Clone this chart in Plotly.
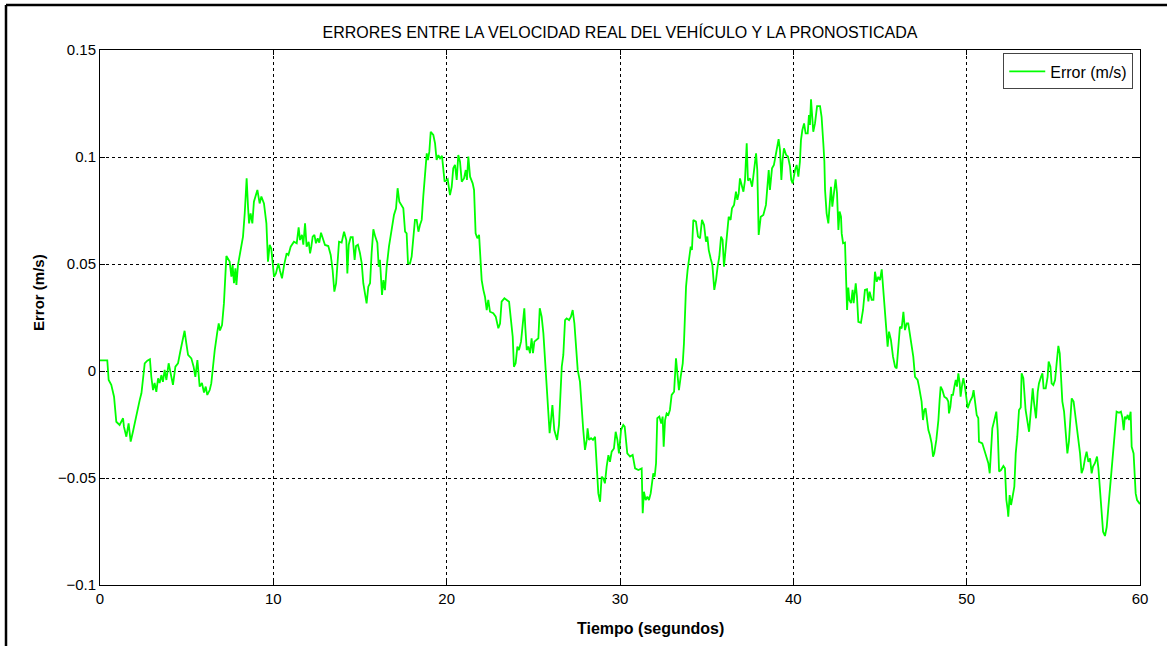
import plotly.graph_objects as go

# ---- data ----
time_a = [0, 0.42, 0.5, 0.65, 0.81, 0.88, 0.94, 1.13, 1.33, 1.38, 1.52, 1.65, 1.77, 1.90, 2.04, 2.15, 2.29, 2.39, 2.48, 2.58,
          2.73, 2.88, 2.96, 3.06, 3.15, 3.25, 3.35, 3.44, 3.54, 3.63, 3.73, 3.83, 3.96, 4.08, 4.21, 4.35, 4.5, 4.65, 4.79, 4.88,
          4.98, 5.08, 5.27, 5.40, 5.5, 5.62, 5.75, 5.88, 6.0, 6.1, 6.19, 6.33, 6.42, 6.52, 6.62, 6.77, 6.85, 6.92, 7.04, 7.15,
          7.23, 7.29, 7.48, 7.58, 7.65, 7.73, 7.81, 7.87, 7.96, 8.12, 8.25, 8.35, 8.39, 8.46, 8.54, 8.6, 8.69, 8.79, 8.88, 9.08,
          9.21, 9.31, 9.46, 9.6, 9.69, 9.79, 9.88, 9.98]
error_a = [0.005, 0.005, -0.0042, -0.0065, -0.012, -0.0174, -0.0237, -0.0252, -0.0221, -0.026, -0.0307, -0.0245, -0.033, -0.0284, -0.0229, -0.0174, -0.0136, -0.0104, -0.0042, 0.0036,
           0.0048, 0.0055, -0.0027, -0.0089, -0.0056, -0.0097, -0.0034, -0.0056, -0.0019, -0.0051, 0.0005, -0.0042, 0.0036, -0.0011, -0.0065, 0.002, 0.0036, 0.0098, 0.0145, 0.0188,
           0.0129, 0.0075, 0.0059, 0.002, -0.0027, 0.0051, -0.0073, -0.0056, -0.0101, -0.0073, -0.0112, -0.0089, -0.0058, 0.0036, 0.0098, 0.0184, 0.0223, 0.0189, 0.0215, 0.0316,
           0.0425, 0.0537, 0.0511, 0.0441, 0.0495, 0.041, 0.048, 0.0402, 0.0495, 0.0573, 0.0628, 0.0737, 0.0799, 0.09, 0.0766, 0.069, 0.0737, 0.069, 0.0791, 0.0846,
           0.0783, 0.0815, 0.0783, 0.069, 0.0511, 0.0589, 0.0573, 0.0503]

time_b = [10.04, 10.15, 10.29, 10.38, 10.5, 10.62, 10.77, 10.87, 11.0, 11.19, 11.35, 11.46, 11.54, 11.65, 11.73, 11.83, 11.92, 12.04, 12.12, 12.19,
          12.27, 12.37, 12.46, 12.56, 12.65, 12.75, 12.85, 12.98, 13.17, 13.31, 13.42, 13.52, 13.62, 13.71, 13.79, 13.94, 14.08, 14.21, 14.27, 14.35,
          14.46, 14.58, 14.69, 14.77, 14.88, 15.0, 15.1, 15.19, 15.29, 15.38, 15.48, 15.58, 15.67, 15.77, 15.88, 16.0, 16.08, 16.15, 16.27, 16.35,
          16.44, 16.54, 16.67, 16.81, 16.96, 17.08, 17.17, 17.27, 17.37, 17.5, 17.6, 17.69, 17.77, 17.88, 17.98, 18.08, 18.17, 18.27, 18.37, 18.46,
          18.56, 18.65, 18.75, 18.85, 18.92, 19.0, 19.08, 19.23, 19.33, 19.42, 19.52, 19.62, 19.73, 19.81, 19.88]
error_b = [0.044, 0.0456, 0.0503, 0.047, 0.0433, 0.0495, 0.055, 0.0542, 0.0581, 0.0604, 0.0597, 0.0671, 0.0612, 0.0636, 0.059, 0.069, 0.0581, 0.0604, 0.055, 0.058,
           0.0628, 0.0636, 0.0597, 0.062, 0.06, 0.0646, 0.062, 0.0589, 0.0584, 0.0542, 0.0472, 0.0371, 0.0409, 0.0503, 0.0604, 0.06, 0.0651, 0.0612, 0.0456, 0.059,
           0.0625, 0.0625, 0.0519, 0.0584, 0.059, 0.055, 0.0503, 0.041, 0.0355, 0.0316, 0.0394, 0.041, 0.055, 0.0662, 0.0628, 0.06, 0.0487, 0.052, 0.0355, 0.0425,
           0.0378, 0.0487, 0.0581, 0.0643, 0.0729, 0.076, 0.0854, 0.0791, 0.0776, 0.076, 0.0651, 0.0643, 0.0503, 0.0501, 0.0534, 0.0636, 0.0706, 0.0706, 0.0651, 0.0682,
           0.0706, 0.0815, 0.0908, 0.1017, 0.0986, 0.1025, 0.1118, 0.1103, 0.1064, 0.0986, 0.1009, 0.0994, 0.1005, 0.0955, 0.0885]

time_c = [20.06, 20.19, 20.29, 20.38, 20.48, 20.58, 20.67, 20.77, 20.87, 21.0, 21.1, 21.17, 21.25, 21.35, 21.5, 21.58, 21.67, 21.77, 21.87, 21.94,
          22.02, 22.12, 22.21, 22.31, 22.4, 22.5, 22.69, 22.83, 22.98, 23.08, 23.17, 23.33, 23.46, 23.6, 23.71, 23.81, 23.88, 23.98, 24.08, 24.17,
          24.29, 24.37, 24.48, 24.54, 24.62, 24.71, 24.81, 24.9, 24.98, 25.06, 25.19, 25.29, 25.37, 25.48, 25.58, 25.67, 25.77, 25.87, 25.94, 26.02,
          26.1, 26.21, 26.37, 26.48, 26.56, 26.64, 26.73, 26.83, 26.92, 27.06, 27.17, 27.27, 27.37, 27.46, 27.56, 27.69, 27.79, 27.88, 27.98, 28.08,
          28.13, 28.21, 28.33, 28.44, 28.56, 28.65, 28.75, 28.85, 28.94, 29.04, 29.13, 29.23, 29.33, 29.42, 29.52, 29.65, 29.75, 29.85, 29.94]
error_c = [0.0896, 0.0822, 0.086, 0.0947, 0.0963, 0.0893, 0.1009, 0.0978, 0.0885, 0.09, 0.0939, 0.0893, 0.1002, 0.0908, 0.0877, 0.0846, 0.0643, 0.062, 0.0636, 0.055,
           0.0425, 0.0378, 0.0347, 0.0285, 0.0332, 0.0277, 0.027, 0.0254, 0.02, 0.0222, 0.0324, 0.034, 0.0332, 0.0324, 0.0238, 0.016, 0.002, 0.0036, 0.0114, 0.0098,
           0.0137, 0.0192, 0.0293, 0.0199, 0.0098, 0.0114, 0.0083, 0.0153, 0.0083, 0.0137, 0.0145, 0.0153, 0.0293, 0.0254, 0.0176, 0.0051, -0.0073, -0.0198, -0.0291, -0.0229,
           -0.0159, -0.0276, -0.0322, -0.0252, -0.0136, 0.002, 0.0075, 0.0238, 0.0246, 0.0238, 0.0254, 0.0285, 0.0222, 0.0098, 0.0005, -0.005, -0.0198, -0.0276, -0.0369, -0.0322,
           -0.0268, -0.0322, -0.0314, -0.0322, -0.0307, -0.0447, -0.0572, -0.0611, -0.0494, -0.0502, -0.0525, -0.0447, -0.0393, -0.0424, -0.0377, -0.0362, -0.0284, -0.0322, -0.0385]

time_d = [30.06, 30.19, 30.27, 30.35, 30.42, 30.58, 30.73, 30.87, 31.06, 31.25, 31.31, 31.38, 31.48, 31.58, 31.67, 31.77, 31.85, 31.92, 32.0, 32.08,
          32.15, 32.27, 32.38, 32.46, 32.52, 32.6, 32.69, 32.79, 32.88, 32.98, 33.12, 33.23, 33.31, 33.4, 33.5, 33.62, 33.69, 33.75, 33.81, 33.9,
          33.98, 34.08, 34.15, 34.23, 34.38, 34.5, 34.62, 34.73, 34.85, 34.96, 35.04, 35.12, 35.23, 35.33, 35.44, 35.54, 35.63, 35.73, 35.83, 35.92,
          36.0, 36.1, 36.19, 36.27, 36.38, 36.46, 36.58, 36.69, 36.77, 36.85, 36.92, 37.02, 37.12, 37.21, 37.31, 37.38, 37.5, 37.62, 37.73, 37.85,
          37.92, 38.0, 38.12, 38.27, 38.42, 38.5, 38.58, 38.65, 38.77, 38.88, 39.0, 39.15, 39.23, 39.31, 39.38, 39.46, 39.58, 39.69, 39.81, 39.88,
          39.96, 40.04]
error_d = [-0.0276, -0.0252, -0.026, -0.0338, -0.0385, -0.04, -0.0392, -0.0455, -0.0463, -0.0455, -0.0665, -0.0564, -0.0603, -0.0587, -0.0603, -0.0572, -0.0517, -0.0478, -0.0494, -0.0431,
           -0.0221, -0.0213, -0.0245, -0.0213, -0.0354, -0.0229, -0.0198, -0.0205, -0.0182, -0.0112, -0.0097, 0.0059, -0.0011, -0.0089, -0.0027, 0.0036, 0.0129, 0.0238, 0.0394, 0.0472,
           0.0534, 0.0581, 0.0566, 0.0706, 0.0698, 0.0628, 0.062, 0.0706, 0.0682, 0.0604, 0.0628, 0.0565, 0.0526, 0.0495, 0.0379, 0.0425, 0.0487, 0.0534, 0.0628, 0.0612,
           0.0487, 0.0566, 0.0643, 0.0721, 0.0706, 0.076, 0.0776, 0.0838, 0.08, 0.083, 0.09, 0.0869, 0.0838, 0.089, 0.1064, 0.089, 0.09, 0.0861, 0.0939, 0.1017,
           0.0939, 0.0636, 0.0721, 0.0729, 0.0776, 0.0846, 0.0939, 0.0846, 0.0947, 0.0963, 0.1025, 0.1083, 0.1033, 0.0893, 0.0986, 0.1041, 0.101, 0.1002, 0.0955, 0.0893,
           0.0877, 0.0916]

time_e = [40.1, 40.19, 40.29, 40.38, 40.44, 40.52, 40.62, 40.71, 40.83, 40.9, 40.96, 41.02, 41.1, 41.15, 41.25, 41.37, 41.54, 41.63, 41.73, 41.79,
          41.83, 41.92, 42.02, 42.1, 42.17, 42.25, 42.37, 42.44, 42.52, 42.6, 42.67, 42.75, 42.79, 42.87, 42.98, 43.04, 43.1, 43.17, 43.23, 43.33,
          43.42, 43.48, 43.6, 43.67, 43.75, 43.9, 44.02, 44.13, 44.25, 44.33, 44.4, 44.52, 44.62, 44.71, 44.81, 44.9, 45.0, 45.1, 45.17, 45.25,
          45.38, 45.44, 45.52, 45.63, 45.75, 45.87, 45.96, 46.06, 46.15, 46.25, 46.35, 46.44, 46.54, 46.63, 46.73, 46.83, 46.92, 47.02, 47.17, 47.25,
          47.33, 47.4, 47.48, 47.56, 47.63, 47.71, 47.79, 47.88, 47.98, 48.06, 48.13, 48.25, 48.37, 48.44, 48.5, 48.6, 48.71, 48.85, 48.94, 48.98,
          49.06, 49.13, 49.21, 49.29, 49.37, 49.44, 49.52, 49.6, 49.65, 49.75, 49.81, 49.9]
error_e = [0.0939, 0.0963, 0.0908, 0.0978, 0.1079, 0.1126, 0.1157, 0.111, 0.111, 0.1196, 0.115, 0.127, 0.1188, 0.1118, 0.1157, 0.1238, 0.1238, 0.1188, 0.1064, 0.098,
           0.0846, 0.0737, 0.069, 0.0768, 0.0861, 0.0768, 0.0846, 0.0896, 0.0831, 0.0659, 0.0745, 0.0721, 0.0643, 0.0597, 0.06, 0.0425, 0.0285, 0.039, 0.0332, 0.0317,
           0.0379, 0.0317, 0.041, 0.0348, 0.023, 0.0225, 0.0285, 0.0379, 0.0382, 0.0325, 0.0371, 0.0332, 0.0332, 0.0464, 0.0417, 0.044, 0.0425, 0.0475, 0.0394, 0.0285,
           0.0176, 0.0114, 0.0184, 0.0145, 0.0067, 0.002, 0.0012, 0.0129, 0.0207, 0.0199, 0.0277, 0.0191, 0.0222, 0.0222, 0.016, 0.0121, 0.0067, -0.0027, -0.0042, -0.0073,
           -0.0112, -0.0143, -0.0229, -0.0182, -0.0174, -0.0221, -0.0276, -0.03, -0.0338, -0.04, -0.0385, -0.0322, -0.0229, -0.0136, -0.0073, -0.0089, -0.012, -0.0128, -0.0143, -0.0198,
           -0.0167, -0.0112, -0.0112, -0.0073, -0.0042, -0.0073, -0.0011, -0.0058, -0.012, -0.0058, -0.0034, -0.0073]

time_f = [50.0, 50.06, 50.19, 50.33, 50.4, 50.48, 50.58, 50.67, 50.71, 50.9, 51.02, 51.15, 51.25, 51.33, 51.4, 51.48, 51.6, 51.71, 51.79, 51.87,
          51.98, 52.12, 52.21, 52.29, 52.37, 52.4, 52.48, 52.56, 52.65, 52.75, 52.83, 52.92, 53.02, 53.12, 53.17, 53.27, 53.4, 53.48, 53.6, 53.69,
          53.81, 53.88, 54.0, 54.1, 54.17, 54.29, 54.37, 54.44, 54.56, 54.67, 54.73, 54.83, 54.9, 55.0, 55.1, 55.19, 55.29, 55.37, 55.44, 55.52,
          55.62, 55.71, 55.81, 55.9, 55.98, 56.06, 56.17, 56.25, 56.35, 56.44, 56.54, 56.63, 56.73, 56.83, 56.92, 57.02, 57.12, 57.21, 57.29, 57.4,
          57.52, 57.6, 57.69, 57.79, 57.87, 57.98, 58.08, 58.17, 58.27, 58.37, 58.46, 58.56, 58.65, 58.79, 58.9, 58.98, 59.06, 59.13, 59.21, 59.29,
          59.37, 59.46, 59.52, 59.63, 59.71, 59.75, 59.83, 60.0]
error_f = [-0.0143, -0.0174, -0.0143, -0.012, -0.0089, -0.0143, -0.0206, -0.022, -0.033, -0.0338, -0.0369, -0.04, -0.0431, -0.0478, -0.0385, -0.0268, -0.0229, -0.019, -0.0276, -0.047,
           -0.0463, -0.0444, -0.0455, -0.0603, -0.065, -0.0681, -0.058, -0.0626, -0.0587, -0.054, -0.0385, -0.0307, -0.0182, -0.017, -0.0011, -0.0034, -0.0182, -0.022, -0.0284, -0.0198,
           -0.0081, -0.0143, -0.0221, -0.0097, -0.0058, -0.0027, -0.0011, -0.0081, -0.0081, -0.0027, 0.0044, 0.002, -0.0058, -0.0066, -0.0042, 0.0036, 0.0117, 0.0083, -0.0042, -0.0143,
           -0.019, -0.0276, -0.0385, -0.033, -0.0213, -0.0128, -0.0143, -0.0198, -0.0276, -0.0338, -0.0385, -0.0478, -0.0455, -0.0408, -0.0377, -0.0424, -0.0408, -0.0478, -0.0447, -0.0431,
           -0.04, -0.0455, -0.0548, -0.0681, -0.0751, -0.0771, -0.0729, -0.0642, -0.0548, -0.0494, -0.04, -0.0291, -0.019, -0.0195, -0.019, -0.0217, -0.0276, -0.0213, -0.0225, -0.0205,
           -0.0229, -0.019, -0.0354, -0.0385, -0.0486, -0.0572, -0.0603, -0.0622]

x_ticks = [0, 10, 20, 30, 40, 50, 60]
x_labels = ["0", "10", "20", "30", "40", "50", "60"]
y_ticks = [-0.1, -0.05, 0, 0.05, 0.1, 0.15]
y_labels = ["\u22120.1", "\u22120.05", "0", "0.05", "0.1", "0.15"]

title_text = "ERRORES ENTRE LA VELOCIDAD REAL DEL VEHÍCULO Y LA PRONOSTICADA"
x_title = "Tiempo (segundos)"
y_title = "Error (m/s)"
series_name = "Error (m/s)"

segments = [(time_a, error_a), (time_b, error_b), (time_c, error_c),
            (time_d, error_d), (time_e, error_e), (time_f, error_f)]
time_s, error_ms = [], []
for i, (ts, es) in enumerate(segments):
    if len(ts) != len(es):
        raise ValueError(f"segment {i}: {len(ts)} times vs {len(es)} errors")
    time_s += ts
    error_ms += es

FONT = "Liberation Sans"

fig = go.Figure()
fig.add_trace(go.Scatter(x=time_s, y=error_ms, mode="lines", name=series_name,
                         line=dict(color="#00ff00", width=1.8), showlegend=True))

axis_common = dict(showline=True, linecolor="black", linewidth=1, mirror="ticks",
                   ticks="inside", ticklen=5, tickcolor="black",
                   showgrid=True, gridcolor="black", gridwidth=1, griddash="3px,3px",
                   zeroline=False, tickfont=dict(family=FONT, size=15, color="black"))

fig.update_xaxes(range=[0, 60], tickvals=x_ticks, ticktext=x_labels, **axis_common)
fig.update_yaxes(range=[-0.1, 0.15], tickvals=y_ticks, ticktext=y_labels, **axis_common)

# axis titles (placed where the reference draws them)
fig.add_annotation(text="<b>" + x_title + "</b>", xref="paper", yref="paper",
                   x=(650 - 100) / 1040, y=(585 - 628) / 535, xanchor="center", yanchor="middle",
                   showarrow=False, font=dict(family=FONT, size=16, color="black"))
fig.add_annotation(text="<b>" + y_title + "</b>", xref="paper", yref="paper", textangle=-90,
                   x=(38 - 100) / 1040, y=(585 - 293) / 535, xanchor="center", yanchor="middle",
                   showarrow=False, font=dict(family=FONT, size=15, color="black"))

# outer frame (left and top edges of the figure window)
frame_left = (6 - 100) / 1040
frame_top = (585 - 5) / 535
fig.add_shape(type="line", xref="paper", yref="paper", x0=frame_left, x1=frame_left, y0=frame_top, y1=-1,
              line=dict(color="black", width=2.5))
fig.add_shape(type="line", xref="paper", yref="paper", x0=frame_left, x1=1.1, y0=frame_top, y1=frame_top,
              line=dict(color="black", width=2.5))

fig.update_layout(
    width=1167, height=646,
    margin=dict(l=100, r=27, t=50, b=61, autoexpand=False),
    paper_bgcolor="white", plot_bgcolor="white",
    title=dict(text=title_text, x=(620 / 1167), xanchor="center", y=1 - 32 / 646, yanchor="middle",
               font=dict(family=FONT, size=16, color="black")),
    legend=dict(x=0.9935, xanchor="right", y=0.9935, yanchor="top",
                bgcolor="white", bordercolor="#444444", borderwidth=1,
                font=dict(family=FONT, size=16, color="black"),
                itemwidth=36, tracegroupgap=0),
    showlegend=True,
)

fig.write_html("out.html", config={"displayModeBar": False},
               post_script="document.body.style.margin='0';document.body.style.overflow='hidden';")
